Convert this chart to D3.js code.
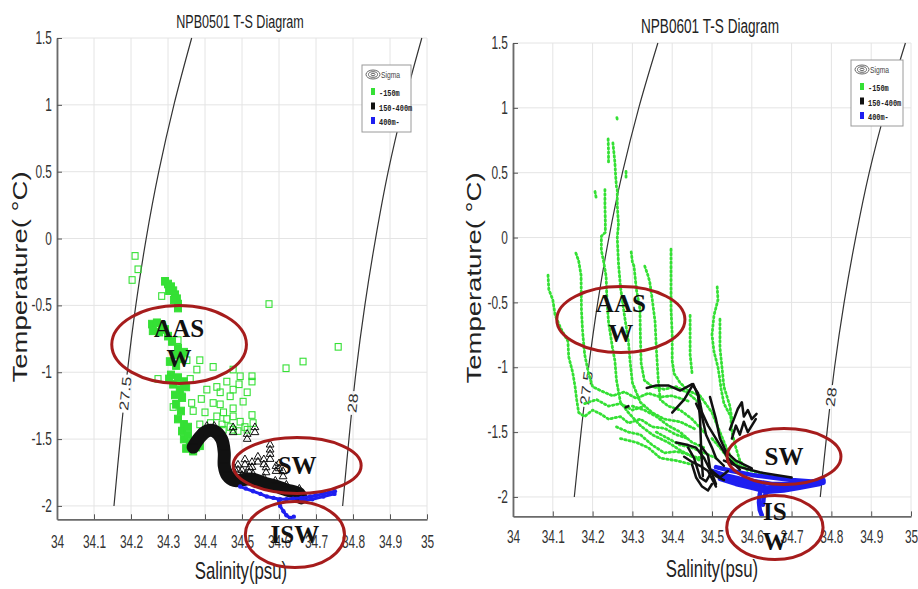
<!DOCTYPE html>
<html><head><meta charset="utf-8">
<script src="https://cdn.jsdelivr.net/npm/d3@7"></script>
<style>body{margin:0;background:#fff}svg{display:block}</style>
</head><body>
<svg id="c" width="918" height="589"></svg>
<script>
// ---------------- DATA ----------------
const salinityTicks = [34,34.1,34.2,34.3,34.4,34.5,34.6,34.7,34.8,34.9,35];
const salinityTickLabels = ["34","34.1","34.2","34.3","34.4","34.5","34.6","34.7","34.8","34.9","35"];
const tempTicks = [-2,-1.5,-1,-0.5,0,0.5,1,1.5];
const tempTickLabels = ["-2","-1.5","-1","-0.5","0","0.5","1","1.5"];
const panelTitles = ["NPB0501 T-S Diagram","NPB0601 T-S Diagram"];
const xAxisLabel = "Salinity(psu)";
const yAxisLabel = "Temperature( \u00B0C)";
const legendTitle = "Sigma";
const legendLabels = ["-150m","150-400m","400m-"];

// isopycnals (sigma): [salinity, temperature]
const sigma275 = [[34.154,-2],[34.171,-1.5],[34.190,-1],[34.213,-0.5],[34.241,0],[34.275,0.5],[34.316,1],[34.364,1.5]];
const sigma28  = [[34.772,-2],[34.789,-1.5],[34.808,-1],[34.832,-0.5],[34.861,0],[34.895,0.5],[34.937,1],[34.986,1.5]];
const sigmaLabels = ["27.5","28"];
const sigmaLabelTemps = [-1.16,-1.23];

// NPB0501 : -150m (open squares)
const npb0501Green = [[34.211,-0.13],[34.219,-0.23],[34.203,-0.31],[34.283,-0.43],[34.573,-0.49],[34.760,-0.81],[34.665,-0.92],[34.619,-0.97],[34.527,-1.03],[34.527,-1.07],[34.492,-1.09],[34.459,-1.07],[34.422,-0.96],[34.386,-0.91],[34.273,-1.05],[34.338,-1.18],[34.314,-1.26],[34.364,-1.23],[34.368,-1.29],[34.386,-1.39],[34.422,-1.23],[34.441,-1.24],[34.476,-1.27],[34.503,-1.22],[34.527,-1.32],[34.459,-1.35],[34.495,-1.37],[34.495,-1.03],[34.476,-1.13],[34.432,-1.11],[34.405,-1.13],[34.351,-0.91],[34.378,-0.98],[34.441,-1.15],[34.468,-1.18],[34.514,-1.15],[34.476,-0.98],[34.432,-1.33],[34.476,-1.33],[34.476,-1.43],[34.514,-1.43],[34.530,-1.38],[34.449,-1.43],[34.446,-1.39],[34.468,-1.41],[34.489,-1.44],[34.508,-1.41],[34.327,-0.76],[34.360,-1.05],[34.400,-1.30],[34.415,-1.38],[34.390,-1.20],[34.450,-1.30]];
// NPB0501 : -150m dense clusters
const npb0501GreenDense = [[34.292,-0.32],[34.300,-0.34],[34.308,-0.36],[34.314,-0.39],[34.319,-0.42],[34.324,-0.45],[34.327,-0.49],[34.327,-0.52],[34.303,-0.39],[34.316,-0.46],[34.257,-0.64],[34.270,-0.63],[34.284,-0.65],[34.259,-0.69],[34.276,-0.70],[34.292,-0.68],[34.300,-0.73],[34.311,-0.77],[34.327,-0.82],[34.319,-0.87],[34.335,-0.90],[34.305,-0.92],[34.343,-0.85],[34.322,-0.95],[34.308,-1.02],[34.327,-1.04],[34.343,-1.07],[34.314,-1.09],[34.332,-1.13],[34.349,-1.11],[34.319,-1.17],[34.338,-1.19],[34.303,-1.05],[34.322,-1.24],[34.335,-1.29],[34.327,-1.35],[34.343,-1.39],[34.338,-1.44],[34.354,-1.41],[34.343,-1.50],[34.359,-1.53],[34.376,-1.56],[34.349,-1.57],[34.368,-1.59],[34.386,-1.55],[34.354,-1.47]];
// NPB0501 : 150-400m (triangles, dense band + scattered)
const npb0501BlackBand = [[34.368,-1.56],[34.385,-1.49],[34.405,-1.44],[34.425,-1.44],[34.445,-1.50],[34.452,-1.60],[34.452,-1.70],[34.460,-1.77],[34.480,-1.81],[34.510,-1.80],[34.530,-1.80],[34.560,-1.83],[34.590,-1.85],[34.620,-1.88],[34.655,-1.91],[34.660,-1.94]];
const npb0501BlackOpen = [[34.489,-1.73],[34.508,-1.69],[34.527,-1.71],[34.543,-1.67],[34.559,-1.69],[34.576,-1.65],[34.592,-1.74],[34.500,-1.77],[34.611,-1.78],[34.476,-1.45],[34.535,-1.45],[34.576,-1.58],[34.514,-1.50],[34.520,-1.75],[34.565,-1.75],[34.600,-1.72],[34.480,-1.76]];
// NPB0501 : 400m- (dots)
const npb0501Blue = [
  [[34.495,-1.855],[34.510,-1.87],[34.530,-1.89],[34.550,-1.91],[34.567,-1.93],[34.585,-1.94],[34.603,-1.95],[34.620,-1.95],[34.638,-1.945],[34.660,-1.94],[34.684,-1.93],[34.700,-1.92],[34.720,-1.91],[34.735,-1.90],[34.751,-1.89]],
  [[34.660,-1.96],[34.690,-1.95],[34.720,-1.93],[34.750,-1.91]],
  [[34.600,-1.96],[34.603,-2.00],[34.612,-2.04],[34.620,-2.07],[34.630,-2.09],[34.640,-2.08]]
];

// NPB0601 : -150m profiles
const npb0601Green = [
  [[34.088,-0.29],[34.090,-0.40],[34.100,-0.48],[34.106,-0.60],[34.120,-0.70],[34.138,-0.80],[34.140,-0.92],[34.150,-1.04],[34.156,-1.15],[34.160,-1.25],[34.165,-1.35],[34.180,-1.38],[34.200,-1.33],[34.220,-1.36],[34.240,-1.40],[34.270,-1.38],[34.290,-1.43],[34.320,-1.40],[34.350,-1.46],[34.380,-1.47],[34.410,-1.52],[34.440,-1.55]],
  [[34.158,-0.12],[34.165,-0.18],[34.171,-0.29],[34.172,-0.56],[34.175,-0.73],[34.180,-0.90],[34.190,-1.05],[34.200,-1.15],[34.220,-1.18],[34.250,-1.22],[34.280,-1.19],[34.310,-1.24],[34.340,-1.20],[34.370,-1.23],[34.400,-1.22],[34.440,-1.26]],
  [[34.239,0.76],[34.240,0.66],[34.240,0.58]],
  [[34.261,0.925],[34.262,0.91]],
  [[34.251,0.73],[34.256,0.58],[34.258,0.47],[34.260,0.39]],
  [[34.206,0.355],[34.210,0.29]],
  [[34.231,0.37],[34.231,0.25],[34.232,0.12],[34.232,0.04],[34.222,0.01],[34.222,-0.10],[34.228,-0.19],[34.234,-0.30],[34.236,-0.48],[34.240,-0.65],[34.250,-0.85],[34.256,-0.95],[34.260,-1.10],[34.270,-1.27],[34.290,-1.35],[34.320,-1.45],[34.350,-1.52],[34.390,-1.58],[34.420,-1.64],[34.450,-1.69],[34.480,-1.70]],
  [[34.262,0.37],[34.262,0.25],[34.265,0.10],[34.262,0.00],[34.265,-0.20],[34.270,-0.38],[34.280,-0.60],[34.290,-0.80],[34.294,-0.95],[34.300,-1.12],[34.320,-1.27],[34.350,-1.35],[34.380,-1.40],[34.420,-1.42],[34.460,-1.48]],
  [[34.284,0.51],[34.284,0.45]],
  [[34.297,-0.11],[34.300,-0.19],[34.304,-0.22],[34.310,-0.40],[34.319,-0.55],[34.320,-0.75],[34.322,-0.97],[34.330,-1.10],[34.350,-1.15],[34.380,-1.17],[34.410,-1.15],[34.440,-1.20],[34.470,-1.28]],
  [[34.331,-0.22],[34.340,-0.30],[34.344,-0.35],[34.350,-0.48],[34.357,-0.65],[34.360,-0.85],[34.362,-0.95],[34.365,-1.10],[34.370,-1.25],[34.390,-1.30],[34.420,-1.33],[34.450,-1.40],[34.480,-1.50]],
  [[34.397,-0.09],[34.397,-0.25],[34.397,-0.38],[34.397,-0.55],[34.400,-0.75],[34.400,-0.95],[34.405,-1.05],[34.420,-1.12],[34.440,-1.18],[34.470,-1.22],[34.500,-1.35],[34.520,-1.50],[34.540,-1.65],[34.560,-1.75]],
  [[34.445,-0.60],[34.445,-0.75],[34.445,-0.90],[34.450,-1.05]],
  [[34.513,-0.38],[34.515,-0.48],[34.505,-0.60],[34.500,-0.75],[34.505,-0.88],[34.515,-1.00],[34.520,-1.10],[34.523,-1.17],[34.530,-1.28],[34.547,-1.38],[34.550,-1.50],[34.560,-1.62],[34.570,-1.72],[34.590,-1.80]],
  [[34.520,-0.63],[34.520,-0.85],[34.525,-1.00],[34.530,-1.15],[34.545,-1.30],[34.550,-1.40]],
  [[34.260,-1.46],[34.290,-1.50],[34.320,-1.52],[34.350,-1.60],[34.380,-1.66],[34.410,-1.65],[34.440,-1.67],[34.470,-1.72]],
  [[34.270,-1.55],[34.310,-1.58],[34.340,-1.62],[34.370,-1.70],[34.410,-1.72],[34.450,-1.75]],
  [[34.500,-1.55],[34.520,-1.62],[34.540,-1.70],[34.570,-1.76],[34.600,-1.80],[34.640,-1.83]],
  [[34.300,-1.30],[34.330,-1.33],[34.360,-1.38],[34.390,-1.45],[34.420,-1.50],[34.450,-1.58],[34.480,-1.62]],
  [[34.180,-1.28],[34.210,-1.25],[34.240,-1.30],[34.270,-1.28],[34.300,-1.33],[34.330,-1.30]],
  [[34.360,-1.50],[34.390,-1.55],[34.420,-1.60],[34.450,-1.62],[34.480,-1.66],[34.510,-1.70]]
];
// NPB0601 : 150-400m profiles
const npb0601Black = [
  [[34.336,-1.16],[34.360,-1.14],[34.390,-1.14],[34.420,-1.18],[34.450,-1.13],[34.465,-1.20],[34.475,-1.35],[34.490,-1.45],[34.520,-1.60],[34.540,-1.70],[34.570,-1.79]],
  [[34.400,-1.35],[34.430,-1.25],[34.453,-1.13],[34.465,-1.22],[34.470,-1.40],[34.473,-1.65],[34.477,-1.84]],
  [[34.410,-1.58],[34.440,-1.60],[34.460,-1.62],[34.480,-1.70],[34.500,-1.82],[34.510,-1.90]],
  [[34.430,-1.69],[34.450,-1.73],[34.470,-1.76],[34.490,-1.80],[34.500,-1.86],[34.510,-1.92]],
  [[34.460,-1.28],[34.475,-1.38],[34.485,-1.52],[34.500,-1.62],[34.510,-1.70],[34.530,-1.76]],
  [[34.495,-1.23],[34.510,-1.40],[34.520,-1.55],[34.535,-1.65],[34.560,-1.72],[34.600,-1.78]],
  [[34.545,-1.48],[34.555,-1.40],[34.565,-1.32],[34.575,-1.27],[34.580,-1.38],[34.590,-1.33],[34.600,-1.40],[34.612,-1.36]],
  [[34.283,-1.31],[34.290,-1.30]],
  [[34.440,-1.62],[34.455,-1.70],[34.470,-1.85],[34.485,-1.88],[34.500,-1.80],[34.520,-1.85],[34.540,-1.80]],
  [[34.550,-1.55],[34.560,-1.45],[34.570,-1.52],[34.580,-1.42],[34.590,-1.50],[34.610,-1.40]],
  [[34.530,-1.72],[34.570,-1.77],[34.620,-1.81],[34.660,-1.83],[34.700,-1.85]],
  [[34.450,-1.75],[34.460,-1.85],[34.475,-1.92],[34.490,-1.95],[34.500,-1.90]],
  [[34.470,-1.60],[34.490,-1.68],[34.495,-1.78],[34.510,-1.84],[34.530,-1.87]]
];
// NPB0601 : 400m- profiles
const npb0601Blue = [
  [[34.510,-1.77],[34.550,-1.80],[34.600,-1.83],[34.650,-1.85],[34.700,-1.87],[34.750,-1.88],[34.780,-1.87]],
  [[34.500,-1.80],[34.530,-1.83],[34.570,-1.86],[34.610,-1.88],[34.650,-1.90],[34.700,-1.90],[34.740,-1.89],[34.780,-1.88]],
  [[34.520,-1.83],[34.560,-1.87],[34.600,-1.90],[34.640,-1.93],[34.680,-1.93],[34.720,-1.92],[34.760,-1.90],[34.780,-1.89]],
  [[34.520,-1.86],[34.560,-1.90],[34.600,-1.93],[34.640,-1.96],[34.680,-1.95],[34.720,-1.93],[34.770,-1.90]],
  [[34.625,-1.92],[34.620,-1.98],[34.618,-2.04],[34.620,-2.10],[34.625,-2.14]],
  [[34.640,-1.95],[34.630,-2.00],[34.628,-2.06]]
];

// water-mass annotations: [salinity, temperature, radiusS, radiusT]
const npb0501Masses = [["AAS","W"],["SW"],["ISW"]];
const npb0501Ellipses = [[34.330,-0.793,0.182,0.292],[34.649,-1.698,0.173,0.209],[34.643,-2.214,0.134,0.247]];
const npb0601Masses = [["AAS","W"],["SW"],["IS","W"]];
const npb0601Ellipses = [[34.271,-0.632,0.161,0.254],[34.681,-1.689,0.143,0.216],[34.658,-2.236,0.121,0.247]];

// ---------------- DRAWING ----------------
const GREEN = "#35e035", BLACK = "#111", BLUE = "#1e1ef0", RED = "#a61c1c";
const SANS = "'Liberation Sans', Arial, sans-serif";
const svg = d3.select("#c");
const defs = svg.append("defs");

const layouts = [
  {x0:57, x1:427, y0:38, y1:519.3, tMin:-2.1, titleX:240, titleY:28.3, titleSize:18.5, xlabX:241, xlabY:579, ylabX:27, ylabY:277, xPad:16, lg:{x:362,y:65,w:49,h:67}},
  {x0:513, x1:911, y0:43, y1:516.4, tMin:-2.15, titleX:710, titleY:33.3, titleSize:20, xlabX:712, xlabY:577, ylabX:481, ylabY:278, xPad:14, lg:{x:851,y:60,w:52,h:66}}
];

function hText(g, x, y, str, size, opts={}) {
  return g.append("text").attr("transform", `translate(${x},${y}) scale(${opts.sx||0.7},1)`)
    .attr("text-anchor", opts.anchor||"middle").attr("font-family", opts.family||SANS)
    .attr("font-size", size).attr("font-weight", opts.weight||"normal")
    .attr("fill", opts.fill||"#262626").text(str);
}

function drawPanel(idx, L, draw) {
  const g = svg.append("g");
  const x = d3.scaleLinear().domain([34,35]).range([L.x0, L.x1]);
  const y = d3.scaleLinear().domain([L.tMin,1.5]).range([L.y1, L.y0]);
  const line = d3.line().x(d=>x(d[0])).y(d=>y(d[1]));

  // grid
  g.append("g").selectAll("line").data(salinityTicks).join("line")
    .attr("x1",d=>x(d)).attr("x2",d=>x(d)).attr("y1",L.y0).attr("y2",L.y1)
    .attr("stroke","#e4e4e4").attr("stroke-width",1);
  g.append("g").selectAll("line").data(tempTicks).join("line")
    .attr("y1",d=>y(d)).attr("y2",d=>y(d)).attr("x1",L.x0).attr("x2",L.x1)
    .attr("stroke","#e4e4e4").attr("stroke-width",1);

  // sigma contours with label gaps (mask)
  const maskId = "mask"+idx;
  const mask = defs.append("mask").attr("id",maskId).attr("maskUnits","userSpaceOnUse")
    .attr("x",0).attr("y",0).attr("width",918).attr("height",589);
  mask.append("rect").attr("width",918).attr("height",589).attr("fill","#fff");
  const sg = g.append("g");
  [sigma275, sigma28].forEach((pts, k) => {
    sg.append("path").attr("d", d3.line().x(d=>x(d[0])).y(d=>y(d[1])).curve(d3.curveCatmullRom)(pts))
      .attr("fill","none").attr("stroke","#333").attr("stroke-width",1.2).attr("mask",`url(#${maskId})`);
    const T = sigmaLabelTemps[k];
    let i = 0; while (i < pts.length-2 && pts[i+1][1] < T) i++;
    const a = pts[i], b = pts[i+1], f = (T-a[1])/(b[1]-a[1]);
    const S = a[0] + f*(b[0]-a[0]);
    const px = x(S), py = y(T);
    const ang = Math.atan2(y(b[1])-y(a[1]), x(b[0])-x(a[0])) * 180/Math.PI;
    const len = sigmaLabels[k].length > 2 ? 38 : 24;
    mask.append("rect").attr("x",-len/2).attr("y",-6).attr("width",len).attr("height",12)
      .attr("fill","#000").attr("transform",`translate(${px},${py}) rotate(${ang})`);
    g.append("text").attr("transform",`translate(${px},${py}) rotate(${ang}) scale(1,0.75)`)
      .attr("text-anchor","middle").attr("dominant-baseline","central")
      .attr("font-family",SANS).attr("font-size",17.5).attr("fill","#333").text(sigmaLabels[k]);
  });

  // data
  draw(g, x, y, line);

  // axes
  const ax = g.append("g").attr("transform",`translate(0,${L.y1})`)
    .call(d3.axisBottom(x).tickValues(salinityTicks).tickFormat((d,i)=>salinityTickLabels[i])
      .tickSizeInner(-5).tickSizeOuter(0).tickPadding(L.xPad));
  const ay = g.append("g").attr("transform",`translate(${L.x0},0)`)
    .call(d3.axisLeft(y).tickValues(tempTicks).tickFormat((d,i)=>tempTickLabels[i])
      .tickSizeInner(-5).tickSizeOuter(0).tickPadding(7.4));
  [ax, ay].forEach(a => {
    a.select(".domain").attr("stroke","#6a6a6a").attr("stroke-width",1.8);
    a.selectAll(".tick line").attr("stroke","#555").attr("stroke-width",1);
    a.selectAll("text").attr("font-family",SANS).attr("font-size",17.5).attr("fill","#333")
      .attr("transform","scale(0.68,1)");
  });

  // titles / labels
  hText(g, L.titleX, L.titleY, panelTitles[idx], L.titleSize, {sx:0.68, fill:"#222"});
  hText(g, L.xlabX, L.xlabY, xAxisLabel, 24, {sx:0.7, fill:"#222"});
  g.append("text").attr("transform",`translate(${L.ylabX},${L.ylabY}) rotate(-90) scale(1,0.75)`)
    .attr("text-anchor","middle").attr("font-family",SANS).attr("font-size",27.5)
    .attr("fill","#222").text(yAxisLabel);

  // legend
  const lg = g.append("g").attr("transform",`translate(${L.lg.x},${L.lg.y})`);
  lg.append("rect").attr("width",L.lg.w).attr("height",L.lg.h).attr("fill","#fff")
    .attr("stroke","#9a9a9a").attr("stroke-width",1);
  [[7,4.5],[4.5,2.8],[2,1.2]].forEach(r => lg.append("ellipse").attr("cx",11).attr("cy",9.5)
    .attr("rx",r[0]).attr("ry",r[1]).attr("fill","none").attr("stroke","#666").attr("stroke-width",1));
  hText(lg, 19, 13, legendTitle, 9, {sx:0.75, anchor:"start", fill:"#444"});
  const lcol = [GREEN, BLACK, BLUE];
  legendLabels.forEach((t,i) => {
    const yy = [31,45.5,60][i];
    lg.append("rect").attr("x",9).attr("y",yy-8).attr("width",4).attr("height",7).attr("fill",lcol[i]);
    hText(lg, 17, yy, t, 9, {sx:0.77, anchor:"start", fill:"#222", family:"'Liberation Mono', monospace", weight:"bold"});
  });
  return {g, x, y};
}

function annotate(g, x, y, ells, names) {
  ells.forEach((e,i) => {
    const cx = x(e[0]), cy = y(e[1]);
    g.append("ellipse").attr("cx",cx).attr("cy",cy)
      .attr("rx", x(e[0]+e[2])-cx).attr("ry", cy - y(e[1]+e[3]))
      .attr("fill","none").attr("stroke",RED).attr("stroke-width",3);
    const lines = names[i];
    lines.forEach((t,j) => {
      const by = lines.length === 1 ? cy + 8 : cy - 7.5 + j*30;
      g.append("text").attr("x",cx).attr("y",by).attr("text-anchor","middle")
        .attr("font-family","'Liberation Serif','Times New Roman',serif").attr("font-weight","bold")
        .attr("font-size",25).attr("fill","#111").text(t);
    });
  });
}

// Panel 1 : NPB0501
const p1 = drawPanel(0, layouts[0], (g, x, y, line) => {
  g.append("g").selectAll("rect").data(npb0501Green).join("rect")
    .attr("x",d=>x(d[0])-3).attr("y",d=>y(d[1])-3.3).attr("width",6).attr("height",6.6)
    .attr("fill","none").attr("stroke",GREEN).attr("stroke-width",1.1);
  g.append("g").selectAll("rect").data(npb0501GreenDense).join("rect")
    .attr("x",d=>x(d[0])-3.5).attr("y",d=>y(d[1])-3.8).attr("width",7).attr("height",7.6)
    .attr("fill",GREEN).attr("stroke",GREEN).attr("stroke-width",1);
  g.append("path").attr("d", line.curve(d3.curveCatmullRom)(npb0501BlackBand))
    .attr("fill","none").attr("stroke",BLACK).attr("stroke-width",13)
    .attr("stroke-linejoin","round").attr("stroke-linecap","round");
  line.curve(d3.curveLinear);
  const tri = d3.symbol().type(d3.symbolTriangle).size(26);
  g.append("g").selectAll("path").data(npb0501BlackBand.concat(npb0501BlackOpen)).join("path")
    .attr("d", tri).attr("transform", d=>`translate(${x(d[0])},${y(d[1])-5})`)
    .attr("fill","none").attr("stroke",BLACK).attr("stroke-width",1);
  g.append("g").selectAll("path").data(npb0501BlackOpen).join("path")
    .attr("d", tri).attr("transform", d=>`translate(${x(d[0])},${y(d[1])})`)
    .attr("fill","none").attr("stroke",BLACK).attr("stroke-width",1);
  npb0501Blue.forEach(seg => {
    g.append("path").attr("d", line(seg)).attr("fill","none").attr("stroke",BLUE)
      .attr("stroke-width",3).attr("stroke-linejoin","round").attr("stroke-linecap","round");
    g.append("g").selectAll("circle").data(seg).join("circle")
      .attr("cx",d=>x(d[0])).attr("cy",d=>y(d[1])).attr("r",2.2).attr("fill",BLUE);
  });
});
annotate(p1.g, p1.x, p1.y, npb0501Ellipses, npb0501Masses);

// Panel 2 : NPB0601
const p2 = drawPanel(1, layouts[1], (g, x, y, line) => {
  npb0601Green.forEach(seg => g.append("path").attr("d", line(seg)).attr("fill","none")
    .attr("stroke",GREEN).attr("stroke-width",2.8).attr("stroke-dasharray","1.5,2.8")
    .attr("stroke-linecap","round").attr("stroke-linejoin","round"));
  npb0601Blue.forEach(seg => g.append("path").attr("d", line(seg)).attr("fill","none")
    .attr("stroke",BLUE).attr("stroke-width",4.5).attr("stroke-linecap","round").attr("stroke-linejoin","round"));
  npb0601Black.forEach(seg => g.append("path").attr("d", line(seg)).attr("fill","none")
    .attr("stroke",BLACK).attr("stroke-width",2.5).attr("stroke-linecap","round").attr("stroke-linejoin","round"));
});
annotate(p2.g, p2.x, p2.y, npb0601Ellipses, npb0601Masses);
</script>
</body></html>
